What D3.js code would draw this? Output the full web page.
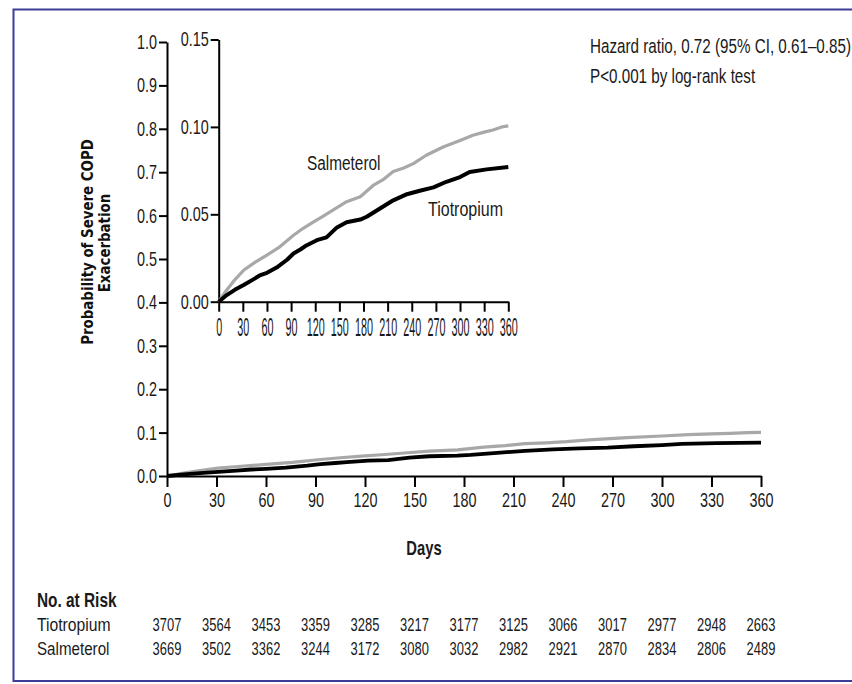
<!DOCTYPE html>
<html>
<head>
<meta charset="utf-8">
<script src="https://cdn.jsdelivr.net/npm/d3@7/dist/d3.min.js"></script>
<style>
  html, body { margin: 0; padding: 0; background: #fff; }
  svg { display: block; }
  .narrow { font-family: "Liberation Sans", Arial, sans-serif; fill: #1a1a1a; }
</style>
</head>
<body>
<svg id="chart" width="852" height="684"></svg>
<script>
// Day ticks shared by both axes and the risk table
const dayTicks = [0, 30, 60, 90, 120, 150, 180, 210, 240, 270, 300, 330, 360];
const mainProbTicks = [0, 0.1, 0.2, 0.3, 0.4, 0.5, 0.6, 0.7, 0.8, 0.9, 1.0];
const insetProbTicks = [0, 0.05, 0.10, 0.15];

// Cumulative probability of a severe COPD exacerbation, [day, probability]
const tiotropium = [
  [0, 0], [10, 0.0038], [20, 0.0068], [31, 0.0095], [42, 0.0125], [51, 0.0150],
  [60, 0.0165], [72, 0.0195], [85, 0.0240], [93, 0.0276], [102, 0.0300],
  [109, 0.0322], [122, 0.0352], [134, 0.0368], [147, 0.0425], [159, 0.0455],
  [176, 0.0470], [184, 0.0486], [200, 0.0532], [217, 0.0580], [234, 0.0615],
  [250, 0.0635], [267, 0.0654], [283, 0.0686], [300, 0.0713], [312, 0.0742],
  [333, 0.0757], [360, 0.0770]
];
const salmeterol = [
  [0, 0], [5, 0.0035], [10, 0.0067], [20, 0.0125], [31, 0.0180], [45, 0.0225],
  [60, 0.0267], [76, 0.0314], [93, 0.0380], [105, 0.0420], [118, 0.0457],
  [130, 0.0490], [142, 0.0524], [159, 0.0572], [176, 0.0600], [192, 0.0665],
  [205, 0.0700], [217, 0.0745], [230, 0.0765], [242, 0.0790], [258, 0.0838],
  [279, 0.0885], [300, 0.0922], [316, 0.0952], [330, 0.0970], [341, 0.0982],
  [352, 0.1000], [360, 0.1006]
];

// Number of patients at risk at each day tick
const riskGroups = ["Tiotropium", "Salmeterol"];
const riskTiotropium = [3707, 3564, 3453, 3359, 3285, 3217, 3177, 3125, 3066, 3017, 2977, 2948, 2663];
const riskSalmeterol = [3669, 3502, 3362, 3244, 3172, 3080, 3032, 2982, 2921, 2870, 2834, 2806, 2489];

const svg = d3.select("#chart");
const black = "#000000";
const grey = "#a8a8a8";
const frame = "#3d3d98";

// Condensed text: a regular face squeezed horizontally
function label(parent, x, y, str, opt = {}) {
  const { size = 18, sx = 0.84, sy = 1, weight = "normal", anchor = "start" } = opt;
  return parent.append("text")
    .attr("class", "narrow")
    .attr("transform", `translate(${x},${y}) scale(${sx},${sy})`)
    .attr("text-anchor", anchor)
    .style("font-size", size + "px")
    .style("font-weight", weight)
    .text(str);
}

// Frame: top, left and bottom rules
svg.append("path")
  .attr("d", "M852,9.5 H13.5 V681 H852")
  .attr("fill", "none").attr("stroke", frame).attr("stroke-width", 2);

// ---------- Main plot ----------
const x = d3.scaleLinear().domain([0, 360]).range([167, 761]);
const y = d3.scaleLinear().domain([0, 1]).range([476, 42]);

const line = (xs, ys) => d3.line().x(d => xs(d[0])).y(d => ys(d[1]));

function styleAxis(g, fontSize, sx, sy = 1) {
  g.select(".domain").attr("stroke", black).attr("stroke-width", 2);
  g.selectAll(".tick line").attr("stroke", black).attr("stroke-width", 2);
  g.selectAll(".tick text").each(function () {
    const t = d3.select(this);
    const tx = +t.attr("x") || 0;
    const ty = +t.attr("y") || 0;
    t.attr("x", 0).attr("y", 0)
      .attr("class", "narrow")
      .attr("fill", "#1a1a1a")
      .style("font-size", fontSize + "px")
      .attr("transform", `translate(${tx},${ty}) scale(${sx},${sy})`);
  });
}

const yAxis = svg.append("g")
  .attr("transform", `translate(${x(0)},0)`)
  .call(d3.axisLeft(y).tickValues(mainProbTicks).tickFormat(d3.format(".1f"))
        .tickSize(8).tickSizeOuter(0).tickPadding(2));
styleAxis(yAxis, 20, 0.72);

const xAxis = svg.append("g")
  .attr("transform", `translate(0,${y(0)})`)
  .call(d3.axisBottom(x).tickValues(dayTicks).tickSize(11).tickSizeOuter(0).tickPadding(6));
styleAxis(xAxis, 20, 0.72);

svg.append("path").datum(salmeterol)
  .attr("d", line(x, y)).attr("fill", "none")
  .attr("stroke", grey).attr("stroke-width", 3.2).attr("stroke-linejoin", "round");
svg.append("path").datum(tiotropium)
  .attr("d", line(x, y)).attr("fill", "none")
  .attr("stroke", black).attr("stroke-width", 3.8).attr("stroke-linejoin", "round");

// Axis titles
const yTitle = svg.append("g")
  .style("font-family", "'DejaVu Sans', Verdana, sans-serif")
  .style("font-weight", "bold").style("font-size", "16.5px").attr("fill", "#111");
yTitle.append("text").attr("text-anchor", "middle")
  .attr("transform", "translate(87,242) rotate(-90) scale(0.81,1)").attr("dy", "0.35em")
  .text("Probability of Severe COPD");
yTitle.append("text").attr("text-anchor", "middle")
  .attr("transform", "translate(104.5,243) rotate(-90) scale(0.81,1)").attr("dy", "0.35em")
  .text("Exacerbation");

label(svg, 424, 555, "Days", { size: 20, sx: 0.74, weight: "bold", anchor: "middle" });

// Statistics note
label(svg, 590, 53, "Hazard ratio, 0.72 (95% CI, 0.61\u20130.85)", { size: 19.5, sx: 0.78 });
label(svg, 590, 83, "P<0.001 by log-rank test", { size: 19.5, sx: 0.78 });

// ---------- Inset: first-year detail ----------
const xi = d3.scaleLinear().domain([0, 360]).range([218.7, 508.3]);
const yi = d3.scaleLinear().domain([0, 0.15]).range([301.7, 39.5]);

const yAxisI = svg.append("g")
  .attr("transform", `translate(${xi(0)},0)`)
  .call(d3.axisLeft(yi).tickValues(insetProbTicks).tickFormat(d3.format(".2f"))
        .tickSize(8).tickSizeOuter(0).tickPadding(2));
styleAxis(yAxisI, 20, 0.72);

const xAxisI = svg.append("g")
  .attr("transform", `translate(0,${yi(0)})`)
  .call(d3.axisBottom(xi).tickValues(dayTicks).tickSize(10).tickSizeOuter(0).tickPadding(0));
styleAxis(xAxisI, 18, 0.6, 1.45);
// tall, compressed tick labels so the thirteen values fit under the short axis
xAxisI.selectAll(".tick text")
  .attr("dy", 0)
  .attr("transform", "translate(0,34.5) scale(0.6,1.45)");

svg.append("path").datum(salmeterol)
  .attr("d", line(xi, yi)).attr("fill", "none")
  .attr("stroke", grey).attr("stroke-width", 3.2).attr("stroke-linejoin", "round");
svg.append("path").datum(tiotropium)
  .attr("d", line(xi, yi)).attr("fill", "none")
  .attr("stroke", black).attr("stroke-width", 4).attr("stroke-linejoin", "round");

label(svg, 307, 170, "Salmeterol", { size: 20, sx: 0.77 });
label(svg, 428, 216, "Tiotropium", { size: 20, sx: 0.8 });

// ---------- Number at risk table ----------
label(svg, 37, 607, "No. at Risk", { size: 20, sx: 0.77, weight: "bold" });

const riskRows = [riskTiotropium, riskSalmeterol];
riskRows.forEach((vals, i) => {
  const rowY = 631 + i * 24;
  label(svg, 37, rowY, riskGroups[i], { size: 18.5, sx: i === 0 ? 0.85 : 0.82 });
  const row = svg.append("g");
  vals.forEach((v, j) => {
    label(row, x(dayTicks[j]), rowY, String(v), { size: 18, sx: 0.72, anchor: "middle" });
  });
});
</script>
</body>
</html>
